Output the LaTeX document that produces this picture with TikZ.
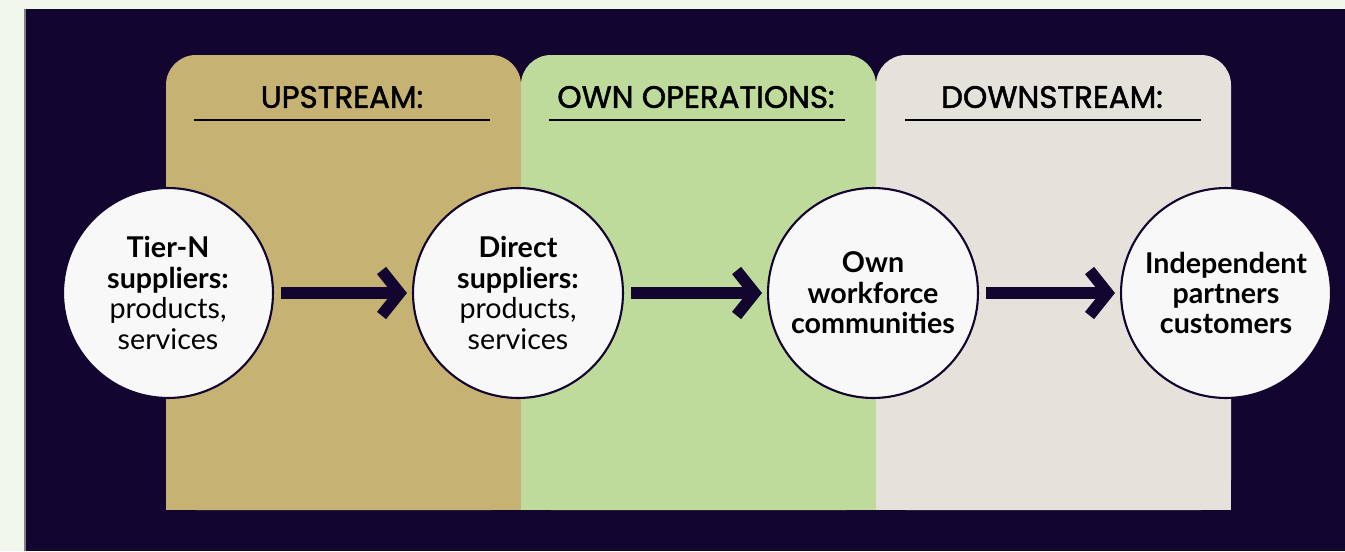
\documentclass[tikz,border=0pt]{standalone}
\usepackage{fontspec}
\setmainfont{Lato}
\newfontfamily\headfont{Poppins}[FakeBold=1.6]
\usepackage{tikz}
\definecolor{valnavy}{RGB}{18, 5, 48}
\definecolor{valpage}{RGB}{240, 247, 236}
\definecolor{valgold}{RGB}{198, 178, 114}
\definecolor{valgreen}{RGB}{191, 219, 155}
\definecolor{valgray}{RGB}{229, 226, 220}
\definecolor{valwhite}{RGB}{248, 248, 248}
\usetikzlibrary{arrows.meta,positioning}

\begin{document}
\begin{tikzpicture}[x=0.02cm, y=-0.02cm]
    \tikzstyle{stage} = [circle, draw=valnavy, line width=1.2pt, fill=valwhite,
                         minimum size=4.2cm, inner sep=0pt, align=center,
                         font=\fontsize{16.3}{17.3}\selectfont]
    \tikzstyle{heading} = [font=\headfont\fontsize{17.6}{20}\selectfont, text=black]
    \tikzstyle{flow} = [-{Straight Barb[length=3.6mm, width=9mm, line join=miter]},
                        line width=6.6pt, valnavy, shorten <=0.14cm, shorten >=0.1cm]

    % Page and dark frame
    \useasboundingbox (0,0) rectangle (1345,551);
    \fill[valpage] (0,0) rectangle (1345,551);
    \fill[valnavy] (25,9) rectangle (1345,551);
    \draw[gray, line width=0.6pt] (25,9) -- (25,551);

    % Value chain panels
    \fill[valgold, rounded corners=0.6cm] (166,55) rectangle (521,510);
    \fill[valgold] (166,200) rectangle (521,510);
    \fill[valgreen, rounded corners=0.6cm] (521,55) rectangle (876,510);
    \fill[valgreen] (521,200) rectangle (876,510);
    \fill[valgray, rounded corners=0.6cm] (876,55) rectangle (1231,510);
    \fill[valgray] (876,200) rectangle (1231,510);

    % Headings
    \node[heading] (up) at (342,97) {UPSTREAM:};
    \node[heading] (own) at (696,97) {OWN OPERATIONS:};
    \node[heading] (down) at (1052,97) {DOWNSTREAM:};
    \draw[black, line width=0.7pt] (194,120) -- (490,120);
    \draw[black, line width=0.7pt] (549,120) -- (845,120);
    \draw[black, line width=0.7pt] (905,120) -- (1201,120);

    % Stages
    \node[stage] (tiern) at (168,293) {\textbf{Tier-N}\\\textbf{suppliers:}\\products,\\services};
    \node[stage] (direct) at (518,293) {\textbf{Direct}\\\textbf{suppliers:}\\products,\\services};
    \node[stage] (workforce) at (873,293) {\textbf{Own}\\\textbf{workforce}\\\textbf{communities}};
    \node[stage] (partners) at (1226,293) {\textbf{Independent}\\\textbf{partners}\\\textbf{customers}};

    % Flow arrows
    \draw[flow] (tiern) -- (direct);
    \draw[flow] (direct) -- (workforce);
    \draw[flow] (workforce) -- (partners);
\end{tikzpicture}
\end{document}
